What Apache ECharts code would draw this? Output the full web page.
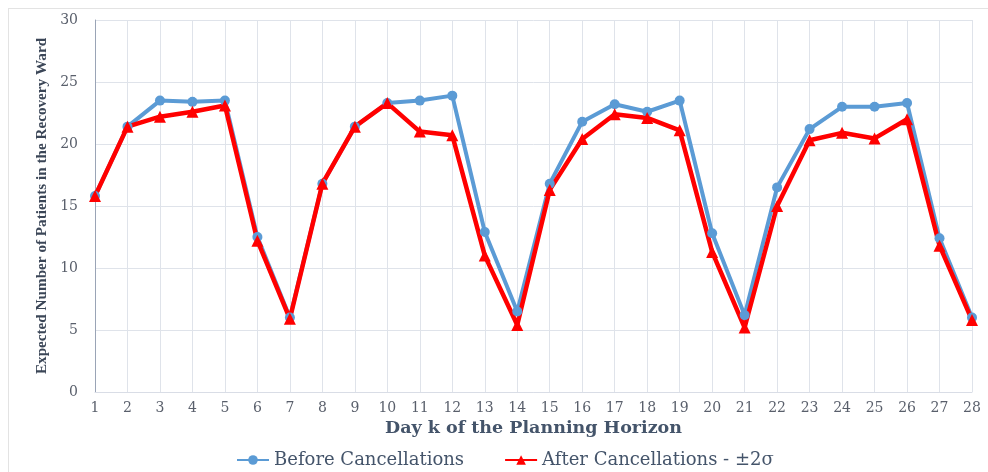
<!DOCTYPE html>
<html>
<head>
<meta charset="utf-8">
<script src="https://cdn.jsdelivr.net/npm/echarts@6/dist/echarts.min.js"></script>
<style>
  html, body { margin: 0; padding: 0; background: #fff; }
  #frame { position: absolute; left: 8px; top: 8px; width: 990px; height: 470px; border: 1px solid #e3e3e3; box-sizing: border-box; }
  #chart { position: absolute; left: 0; top: 0; width: 988px; height: 472px; }
</style>
</head>
<body>
<div id="frame"></div>
<div id="chart"></div>
<script>
// days of the planning horizon
const days = ['1','2','3','4','5','6','7','8','9','10','11','12','13','14',
  '15','16','17','18','19','20','21','22','23','24','25','26','27','28'];

// expected patients before cancellations
const beforeCancel = [15.8, 21.4, 23.5, 23.4, 23.5, 12.5, 6.0, 16.8, 21.4, 23.3, 23.5, 23.9, 12.9, 6.5,
  16.8, 21.8, 23.2, 22.6, 23.5, 12.8, 6.2, 16.5, 21.2, 23.0, 23.0, 23.3, 12.4, 6.0];

// expected patients after cancellations (±2σ)
const afterCancel = [15.8, 21.4, 22.2, 22.6, 23.1, 12.2, 5.9, 16.8, 21.4, 23.3, 21.0, 20.7, 11.0, 5.4,
  16.3, 20.4, 22.4, 22.1, 21.1, 11.3, 5.2, 15.0, 20.3, 20.9, 20.45, 22.0, 11.8, 5.8];

// the picture is stretched sideways, a wide serif copes best with that
const wideSerif = '"DejaVu Serif", "Liberation Serif", serif';
const serif = '"Liberation Serif", "DejaVu Serif", serif';
const textCol = '#44546a';

const chart = echarts.init(document.getElementById('chart'));
chart.setOption({
  backgroundColor: 'transparent',
  animation: false,
  grid: { left: 95, right: 16, top: 20, bottom: 80 },
  legend: {
    top: 446,
    left: 231,
    itemWidth: 32,
    itemHeight: 12,
    itemGap: 40,
    textStyle: { fontFamily: wideSerif, fontSize: 18, color: textCol },
    data: ['Before Cancellations', 'After Cancellations - ±2σ']
  },
  xAxis: {
    type: 'category',
    data: days,
    boundaryGap: false,
    name: 'Day k of the Planning Horizon',
    nameLocation: 'middle',
    nameGap: 27,
    nameTextStyle: { fontFamily: wideSerif, fontSize: 17.5, fontWeight: 'bold', color: textCol },
    axisLine: { lineStyle: { color: '#d9dde6', width: 1 } },
    axisTick: { show: false },
    axisLabel: { fontFamily: wideSerif, fontSize: 14, color: '#595f6b', margin: 9 },
    splitLine: { show: true, lineStyle: { color: '#dfe3ea', width: 1 } }
  },
  yAxis: {
    type: 'value',
    min: 0,
    max: 30,
    interval: 5,
    name: 'Expected Number of Patients in the Recovery Ward',
    nameLocation: 'middle',
    nameGap: 45,
    nameTextStyle: { fontFamily: serif, fontSize: 15.2, fontWeight: 'bold', color: '#3b4657' },
    axisLine: { show: true, lineStyle: { color: '#9aa4b6', width: 1 } },
    axisTick: { show: false },
    axisLabel: { fontFamily: wideSerif, fontSize: 14, color: '#595f6b', margin: 17 },
    splitLine: { lineStyle: { color: '#dfe3ea', width: 1 } }
  },
  series: [
    {
      name: 'Before Cancellations',
      type: 'line',
      data: beforeCancel,
      symbol: 'circle',
      symbolSize: 10,
      color: '#5b9bd5',
      lineStyle: { width: 4, color: '#5b9bd5' },
      itemStyle: { color: '#5b9bd5' }
    },
    {
      name: 'After Cancellations - ±2σ',
      type: 'line',
      data: afterCancel,
      symbol: 'triangle',
      symbolSize: 12,
      color: '#ff0000',
      lineStyle: { width: 4.5, color: '#ff0000' },
      itemStyle: { color: '#ff0000' }
    }
  ]
});
</script>
</body>
</html>
